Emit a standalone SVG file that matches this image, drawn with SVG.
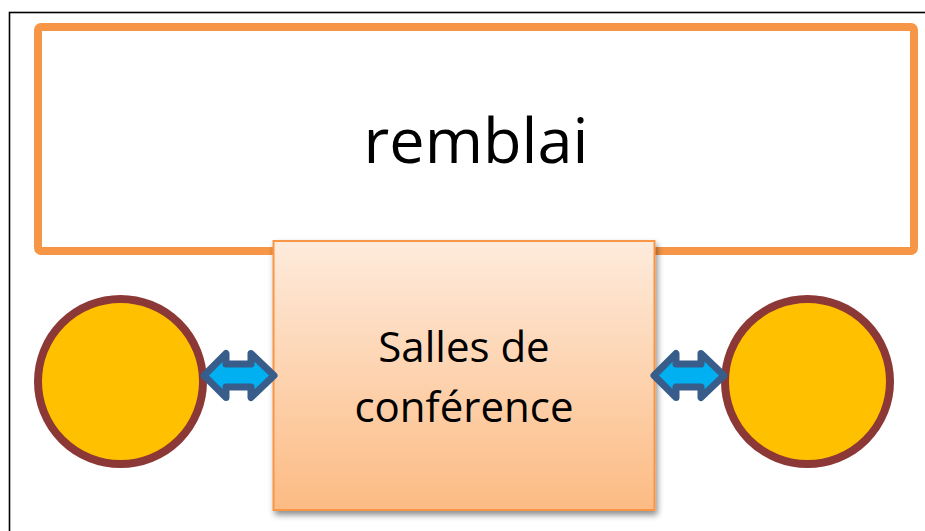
<svg xmlns="http://www.w3.org/2000/svg" width="925" height="531" viewBox="0 0 925 531">
<defs>
<linearGradient id="boxGrad" x1="0" y1="0" x2="0" y2="1">
<stop offset="0" stop-color="#FEEBDC"/>
<stop offset="1" stop-color="#FCBB83"/>
</linearGradient>
<filter id="shadow" x="-10%" y="-10%" width="130%" height="130%">
<feGaussianBlur in="SourceAlpha" stdDeviation="3"/>
<feOffset dx="2" dy="4" result="b"/>
<feComponentTransfer><feFuncA type="linear" slope="0.45"/></feComponentTransfer>
<feMerge><feMergeNode/><feMergeNode in="SourceGraphic"/></feMerge>
</filter>
<style>
.lbl{font-family:"Open Sans","Noto Sans",sans-serif;fill:#000;text-anchor:middle}
.circ{fill:#FFC000;stroke:#8C3836;stroke-width:8}
.arr{fill:#00B0F0;stroke:#385D8A;stroke-width:7;stroke-linejoin:round}
</style>
</defs>
<rect x="0" y="0" width="925" height="531" fill="#fff"/>
<rect x="9.5" y="12.5" width="930" height="540" fill="none" stroke="#000" stroke-width="1.6"/>
<g id="remblai">
<rect x="38" y="27" width="876" height="224" rx="3" fill="#fff" stroke="#F79646" stroke-width="8"/>
<text class="lbl" x="476" y="163" font-size="63">remblai</text>
</g>
<g id="salles">
<rect x="273.5" y="241" width="381" height="269" fill="url(#boxGrad)" stroke="#F79646" stroke-width="2" filter="url(#shadow)"/>
<text class="lbl" x="464" y="362" font-size="42">Salles de</text>
<text class="lbl" x="464" y="422" font-size="42">conférence</text>
</g>
<g id="circle-left">
<circle class="circ" cx="120.5" cy="381.5" r="82.5"/>
</g>
<g id="circle-right">
<circle class="circ" cx="807.5" cy="381.5" r="82.5"/>
</g>
<g id="connectors">
<path class="arr" d="M204,375.5 L226,353.5 L226,364 L251,364 L251,353.5 L274,375.5 L251,397.5 L251,387 L226,387 L226,397.5 Z"/>
<path class="arr" d="M654,375.5 L676,353.5 L676,364 L701,364 L701,353.5 L724,375.5 L701,397.5 L701,387 L676,387 L676,397.5 Z"/>
</g>
</svg>
